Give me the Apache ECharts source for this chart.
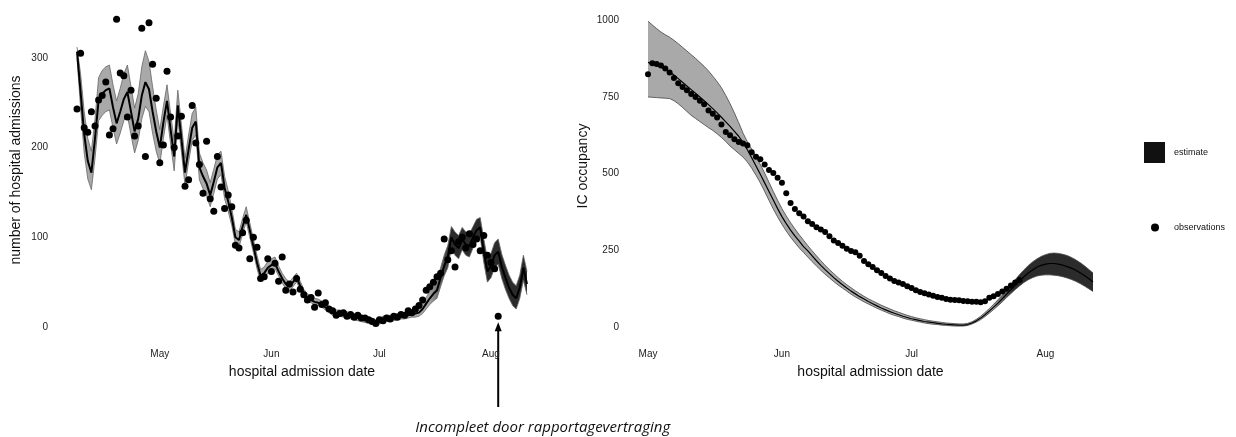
<!DOCTYPE html>
<html>
<head>
<meta charset="utf-8">
<script src="https://cdn.jsdelivr.net/npm/echarts@6/dist/echarts.min.js"></script>
<style>
  html, body { margin: 0; padding: 0; background: #fff; }
  #chart { width: 1236px; height: 437px; }
</style>
</head>
<body>
<div id="chart"></div>
<script>
// Daily hospital admissions, first day 2020-04-08
const admStart = '2020-04-08';
const admObserved = [
  243,305,222,217,240,224,253,258,273,214,
  221,343,283,280,234,264,213,224,333,190,
  339,293,255,183,203,285,234,200,213,235,
  157,164,247,205,181,149,207,143,129,190,
  156,132,147,134,91,88,105,119,76,100,
  89,54,56,76,62,71,51,78,41,48,
  39,54,42,36,30,33,22,38,25,27,
  20,18,13,15,16,12,14,11,13,10,
  10,8,6,4,8,7,10,9,12,11,
  14,13,18,16,20,24,30,41,45,50,
  56,60,98,75,85,67,95,100,88,104,
  92,98,85,102,80,72,65,12
];
const admEstimate = [
  307,262,215,185,172,210,253,260,264,266,
  245,227,240,254,262,240,218,232,258,273,
  265,240,218,200,228,252,220,190,247,210,
  172,198,222,229,178,168,160,147,162,178,
  183,155,140,122,100,97,112,125,108,90,
  72,57,60,66,69,71,62,54,48,45,
  50,55,46,38,33,30,28,27,25,22,
  19,16,15,15,14,13,12,11,10,9,
  8,7,6,4,6,8,9,9,10,11,
  12,12,13,14,15,16,20,26,32,37,
  41,55,68,78,100,92,88,98,92,90,
  100,108,111,84,62,68,80,84,67,55,
  44,36,32,44,66,48
];
const admUpper = [
  312,282,240,210,196,232,278,286,290,292,
  270,252,266,282,292,268,244,260,290,308,
  296,268,242,220,246,270,238,208,264,226,
  188,214,238,245,194,183,175,161,176,192,
  196,168,152,132,109,106,121,134,116,98,
  80,64,67,73,76,78,68,60,54,50,
  55,60,51,42,37,34,32,31,29,26,
  23,20,19,19,18,17,16,15,14,13,
  12,11,10,8,10,12,13,13,14,15,
  16,16,17,18,20,21,26,33,40,46,
  51,66,80,91,112,106,102,111,106,104,
  112,120,122,98,76,82,94,98,81,69,
  58,50,46,58,80,62
];
const admLower = [
  300,244,194,165,153,188,230,236,240,242,
  222,204,216,230,236,214,194,208,232,246,
  240,216,196,182,210,236,204,174,232,195,
  158,184,208,214,164,154,146,134,149,165,
  170,143,129,113,92,89,104,117,100,83,
  65,51,54,60,63,65,57,49,43,40,
  45,50,42,35,30,27,25,24,22,19,
  16,13,12,12,11,10,9,8,7,6,
  5,4,3,2,3,5,6,6,7,8,
  9,9,10,11,11,12,15,20,25,29,
  32,45,57,66,88,80,76,86,80,78,
  88,96,100,72,50,55,66,70,54,42,
  32,24,20,32,52,36
];

// Daily IC occupancy, first day 2020-05-01
const icStart = '2020-05-01';
const icObserved = [
  824,860,858,853,843,830,812,795,783,772,
  760,750,738,726,706,695,683,660,636,625,
  612,603,598,593,570,555,547,530,512,502,
  487,470,436,404,385,371,360,345,336,325,
  318,310,296,282,274,265,255,248,244,232,
  215,205,196,185,176,166,158,150,145,140,
  133,127,120,114,110,106,102,98,95,91,
  89,88,87,85,84,82,82,81,84,95,
  100,108,116,125,135,145,153
];
const icEstimate = [
  863,858,853,847,841,832,822,810,798,786,
  774,762,750,738,725,712,698,684,669,654,
  638,622,602,578,552,525,498,470,442,414,
  386,360,337,316,297,280,262,248,232,216,
  201,187,174,161,149,138,127,117,108,99,
  91,83,76,69,62,56,50,45,40,35,
  31,27,24,21,18,16,14,12,10,9,
  8,7,6,6,8,13,20,29,40,52,
  65,78,92,107,122,137,151,164,176,186,
  195,201,205,207,207,205,202,197,192,185,
  177,168,158,147
];
const icUpper = [
  997,985,973,962,953,945,935,924,912,900,
  888,876,863,850,835,818,800,780,755,728,
  698,666,632,604,580,556,530,502,472,442,
  413,386,362,340,320,301,283,265,248,232,
  216,201,187,174,161,149,138,128,118,109,
  100,92,85,78,71,65,59,53,48,43,
  38,34,30,27,24,21,19,17,15,13,
  12,11,10,10,12,17,25,35,47,60,
  74,89,104,120,137,154,171,186,200,212,
  222,230,236,240,241,240,237,233,227,219,
  210,200,188,176
];
const icLower = [
  750,749,748,747,746,745,738,728,716,703,
  690,680,670,660,650,641,630,618,605,590,
  578,566,554,538,518,495,470,442,413,385,
  359,335,313,293,275,258,243,228,213,199,
  185,172,160,148,137,127,117,107,98,90,
  82,75,68,61,55,49,43,38,34,29,
  25,22,19,16,13,11,9,8,6,5,
  4,3,3,3,5,10,16,24,34,45,
  57,69,82,96,109,122,134,145,154,161,
  166,169,170,170,169,167,164,160,155,149,
  142,134,125,116
];

// Axis ticks
const monthTicks = ['2020-05-01', '2020-06-01', '2020-07-01', '2020-08-01'];
const monthLabels = ['May', 'Jun', 'Jul', 'Aug'];
const admTickStep = 100;
const icTickStep = 250;

const DAY = 86400000;
const stamp = (iso) => Date.parse(iso + 'T00:00:00Z');
const series2 = (start, values) => values.map((v, i) => [stamp(start) + i * DAY, v]);
const monthStamps = monthTicks.map(stamp);
const monthName = (v) => {
  const k = monthStamps.indexOf(v);
  return k >= 0 ? monthLabels[k] : '';
};

const FONT = 'Liberation Sans, Arial, sans-serif';

// Dates are plotted as UTC milliseconds on a numeric axis with month-start labels
function xAxisFor(gridIndex, start, end) {
  return {
    type: 'value', gridIndex,
    min: stamp(start), max: stamp(end),
    name: 'hospital admission date', nameLocation: 'middle', nameGap: 38,
    nameTextStyle: { fontFamily: FONT, fontSize: 14, color: '#111' },
    axisLine: { show: false }, axisTick: { show: false }, splitLine: { show: false },
    axisLabel: {
      customValues: monthStamps, formatter: monthName,
      fontFamily: FONT, fontSize: 10, color: '#222', margin: 22
    }
  };
}
function yAxisFor(gridIndex, name, max, step, gap) {
  return {
    type: 'value', gridIndex, min: 0, max, interval: step,
    name, nameLocation: 'middle', nameGap: gap,
    nameTextStyle: { fontFamily: FONT, fontSize: 14, color: '#111' },
    axisLine: { show: false }, axisTick: { show: false }, splitLine: { show: false },
    axisLabel: {
      fontFamily: FONT, fontSize: 10, color: '#222', margin: 29, showMaxLabel: false,
      formatter: (v) => String(v)
    }
  };
}

// Credible band: one filled polygon between lower and upper bound, plus thin edges.
// The fill turns dark from `split` (fraction of the band's width) onwards.
function bandSeries(axisIndex, start, lower, upper, split, edgeColor) {
  const data = lower.map((l, i) => [stamp(start) + i * DAY, l, upper[i]]);
  return {
    type: 'custom', name: 'estimate', xAxisIndex: axisIndex, yAxisIndex: axisIndex,
    silent: true, z: 1, data,
    encode: { x: 0, y: [1, 2] },
    renderItem: (params, api) => {
      if (params.dataIndex !== 0) return null;
      const top = data.map((d) => api.coord([d[0], d[2]]));
      const bottom = data.map((d) => api.coord([d[0], d[1]]));
      const x0 = top[0][0];
      const x1 = top[top.length - 1][0];
      const fill = new echarts.graphic.LinearGradient(x0, 0, x1, 0, [
        { offset: 0, color: '#a9a9a9' },
        { offset: split, color: '#a9a9a9' },
        { offset: split + 0.05, color: '#2b2b2b' },
        { offset: 1, color: '#2b2b2b' }
      ], true);
      return {
        type: 'group',
        children: [
          { type: 'polygon', shape: { points: top.concat(bottom.slice().reverse()) },
            style: { fill } },
          { type: 'polyline', shape: { points: top },
            style: { stroke: edgeColor, lineWidth: 0.8, fill: null } },
          { type: 'polyline', shape: { points: bottom },
            style: { stroke: edgeColor, lineWidth: 0.8, fill: null } }
        ]
      };
    }
  };
}

const chart = echarts.init(document.getElementById('chart'), null, { renderer: 'canvas' });
chart.setOption({
  animation: false,
  backgroundColor: '#fff',
  grid: [
    { left: 77, right: 709, top: 13, bottom: 110 },
    { left: 648, right: 143, top: 5, bottom: 110 }
  ],
  xAxis: [
    xAxisFor(0, '2020-04-08', '2020-08-11'),
    xAxisFor(1, '2020-05-01', '2020-08-12')
  ],
  yAxis: [
    yAxisFor(0, 'number of hospital admissions', 350, admTickStep, 54),
    yAxisFor(1, 'IC occupancy', 1050, icTickStep, 58)
  ],
  legend: [
    {
      data: [{ name: 'estimate', icon: 'rect', itemStyle: { color: '#111', borderWidth: 0 } }],
      left: 1139, top: 137, itemWidth: 21, itemHeight: 21, selectedMode: false,
      textStyle: { fontFamily: FONT, fontSize: 9, color: '#111', padding: [0, 0, 0, 4] }
    },
    {
      data: [{ name: 'observations', icon: 'circle', itemStyle: { color: '#000' } }],
      left: 1146, top: 218, itemWidth: 8, itemHeight: 8, selectedMode: false,
      textStyle: { fontFamily: FONT, fontSize: 9, color: '#111', padding: [0, 0, 0, 10] }
    }
  ],
  series: [
    // hospital admissions
    bandSeries(0, admStart, admLower, admUpper, 0.78, '#666'),
    {
      type: 'line', name: 'estimate', xAxisIndex: 0, yAxisIndex: 0,
      data: series2(admStart, admEstimate), symbol: 'none', z: 3,
      lineStyle: { color: '#000', width: 2 }
    },
    {
      type: 'scatter', name: 'observations', xAxisIndex: 0, yAxisIndex: 0,
      data: series2(admStart, admObserved), symbolSize: 7, z: 4,
      itemStyle: { color: '#000', opacity: 1 }
    },
    // IC occupancy
    bandSeries(1, icStart, icLower, icUpper, 0.77, '#444'),
    {
      type: 'line', name: 'estimate', xAxisIndex: 1, yAxisIndex: 1,
      data: series2(icStart, icEstimate), symbol: 'none', z: 3,
      lineStyle: { color: '#000', width: 1.2 }
    },
    {
      type: 'scatter', name: 'observations', xAxisIndex: 1, yAxisIndex: 1,
      data: series2(icStart, icObserved), symbolSize: 6, z: 4,
      itemStyle: { color: '#000', opacity: 1 }
    }
  ]
});

// Arrow and note pointing at the last, still incomplete, admissions count
const lastIdx = admObserved.length - 1;
const [ax, ay] = chart.convertToPixel({ xAxisIndex: 0, yAxisIndex: 0 },
  [stamp(admStart) + lastIdx * DAY, admObserved[lastIdx]]);
const tipY = ay + 6;
chart.setOption({
  graphic: [
    { type: 'line', shape: { x1: ax, y1: 407, x2: ax, y2: tipY + 6 },
      style: { stroke: '#000', lineWidth: 2 }, silent: true },
    { type: 'polygon', shape: { points: [[ax, tipY], [ax - 3.5, tipY + 9], [ax + 3.5, tipY + 9]] },
      style: { fill: '#000' }, silent: true },
    { type: 'text', x: ax - 83, y: 428,
      style: { text: 'Incompleet door rapportagevertraging', fill: '#111',
               font: 'italic 15px "Open Sans", Lato, sans-serif', verticalAlign: 'middle' },
      silent: true }
  ]
});
</script>
</body>
</html>
